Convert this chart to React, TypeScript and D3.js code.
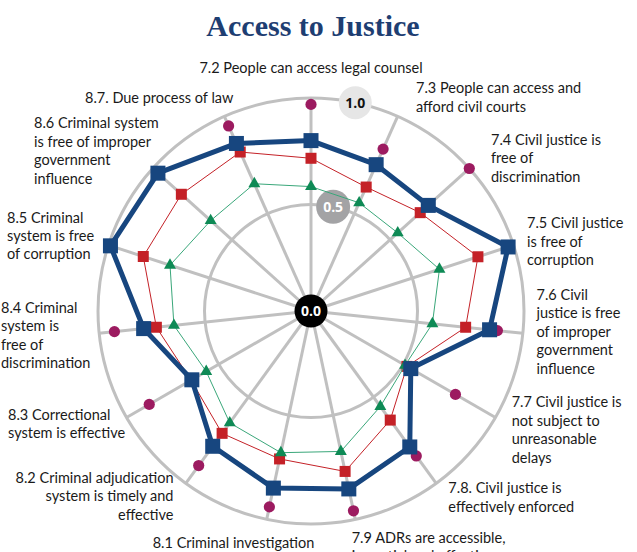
import React from "react";
import * as d3 from "d3";

const axisLabels: string[][] = [
  ["7.2 People can access legal counsel"],
  ["7.3 People can access and", "afford civil courts"],
  ["7.4 Civil justice is", "free of", "discrimination"],
  ["7.5 Civil justice", "is free of", "corruption"],
  ["7.6 Civil", "justice is free", "of improper", "government", "influence"],
  ["7.7 Civil justice is", "not subject to", "unreasonable", "delays"],
  ["7.8. Civil justice is", "effectively enforced"],
  ["7.9 ADRs are accessible,", "impartial and effective"],
  ["8.1 Criminal investigation"],
  ["8.2 Criminal adjudication", "system is timely and", "effective"],
  ["8.3 Correctional", "system is effective"],
  ["8.4 Criminal", "system is", "free of", "discrimination"],
  ["8.5 Criminal", "system is free", "of corruption"],
  ["8.6 Criminal system", "is free of improper", "government", "influence"],
  ["8.7. Due process of law"],
];

const blueValues = [0.8, 0.752, 0.741, 0.973, 0.843, 0.541, 0.789, 0.854, 0.85, 0.785, 0.646, 0.79, 0.99, 0.967, 0.861];
const redValues = [0.717, 0.637, 0.69, 0.824, 0.73, 0.52, 0.633, 0.77, 0.71, 0.71, 0.65, 0.73, 0.828, 0.819, 0.817];
const greenValues = [0.584, 0.556, 0.548, 0.634, 0.573, 0.51, 0.554, 0.674, 0.68, 0.649, 0.568, 0.647, 0.696, 0.634, 0.654];
const purpleValues = [0.97, 0.832, 1.0, 0.97, 0.88, 0.783, 0.841, 0.959, 0.94, 0.897, 0.877, 0.928, 0.99, 0.96, 0.951];

const ringTicks = [0.5, 1.0];
const tickLabels = ["0.0", "0.5", "1.0"];

// layout (not data)
const labelLayout: { x: number; y: number; anchor: string }[] = [
  { x: 311, y: 73, anchor: "middle" },
  { x: 416, y: 93.3, anchor: "start" },
  { x: 491, y: 145, anchor: "start" },
  { x: 527, y: 228.3, anchor: "start" },
  { x: 536.5, y: 300, anchor: "start" },
  { x: 511.7, y: 407.3, anchor: "start" },
  { x: 448.3, y: 493.3, anchor: "start" },
  { x: 351.7, y: 542.7, anchor: "start" },
  { x: 152.7, y: 548.3, anchor: "start" },
  { x: 173.5, y: 482.7, anchor: "end" },
  { x: 8, y: 420, anchor: "start" },
  { x: 1, y: 313, anchor: "start" },
  { x: 7, y: 222.6, anchor: "start" },
  { x: 34, y: 128.3, anchor: "start" },
  { x: 85, y: 103.3, anchor: "start" },
];

const W = 637;
const H = 552;
const cx = 311;
const cy = 311;
const R = 213;
const LINE_H = 18.4;

export default function App() {
  const n = axisLabels.length;
  const angle = d3.scaleLinear().domain([0, n]).range([0, 2 * Math.PI]);
  const r = d3.scaleLinear().domain([0, 1]).range([0, R]);
  const pt = (i: number, v: number): [number, number] => {
    const a = angle(i);
    return [cx + r(v) * Math.sin(a), cy - r(v) * Math.cos(a)];
  };
  const closedLine = (vals: number[]) =>
    d3.line<number>()
      .x((v, i) => pt(i, v)[0])
      .y((v, i) => pt(i, v)[1])
      .curve(d3.curveLinearClosed)(vals) || "";

  const grid = "#c0c0c0";
  const blue = "#17467f";
  const red = "#c42127";
  const green = "#0e8a55";
  const greenLine = "#3aa77a";
  const purple = "#9c1b60";
  const labelFont = "Lato, 'Open Sans', sans-serif";

  const tickAngle = angle(0.5);
  const tickPos = (v: number): [number, number] => [
    cx + r(v) * Math.sin(tickAngle),
    cy - r(v) * Math.cos(tickAngle),
  ];

  const tri = d3.symbol().type(d3.symbolTriangle).size(62)() || "";

  return (
    <svg width={W} height={H} style={{ position: "absolute", left: 0, top: 0, background: "#fff" }}>
      <text x={313} y={36} textAnchor="middle" fontFamily="'Liberation Serif', 'DejaVu Serif', serif" fontWeight="bold" fontSize={30} fill="#1e3e72">
        Access to Justice
      </text>

      {/* grid */}
      {ringTicks.map((t) => (
        <circle key={t} cx={cx} cy={cy} r={r(t)} fill="none" stroke={grid} strokeWidth={3} />
      ))}
      {axisLabels.map((_, i) => {
        const [x, y] = pt(i, 1);
        return <line key={i} x1={cx} y1={cy} x2={x} y2={y} stroke={grid} strokeWidth={3} />;
      })}

      {/* tick badges */}
      {(() => {
        const [x1, y1] = tickPos(1);
        const [x5, y5] = tickPos(0.5);
        return (
          <g fontFamily="'Open Sans', Lato, sans-serif" fontWeight="bold" textAnchor="middle">
            <circle cx={x1} cy={y1} r={16.5} fill="#e6e6e6" />
            <text x={x1} y={y1 + 5} fontSize={14} fill="#111">{tickLabels[2]}</text>
            <circle cx={x5} cy={y5} r={17} fill="#a3a3a5" />
            <text x={x5} y={y5 + 5} fontSize={14} fill="#fff">{tickLabels[1]}</text>
            <circle cx={cx} cy={cy} r={16.5} fill="#000" />
            <text x={cx} y={cy + 5} fontSize={14} fill="#fff">{tickLabels[0]}</text>
          </g>
        );
      })()}

      {/* purple dots */}
      {purpleValues.map((v, i) => {
        const [x, y] = pt(i, v);
        return <circle key={i} cx={x} cy={y} r={5.6} fill={purple} />;
      })}

      {/* red series */}
      <path d={closedLine(redValues)} fill="none" stroke={red} strokeWidth={1} />
      {redValues.map((v, i) => {
        const [x, y] = pt(i, v);
        return <rect key={i} x={x - 5.5} y={y - 5.5} width={11} height={11} fill={red} />;
      })}

      {/* green series */}
      <path d={closedLine(greenValues)} fill="none" stroke={greenLine} strokeWidth={1} />
      {greenValues.map((v, i) => {
        const [x, y] = pt(i, v);
        return <path key={i} d={tri} transform={`translate(${x},${y})`} fill={green} />;
      })}

      {/* blue series */}
      <path d={closedLine(blueValues)} fill="none" stroke={blue} strokeWidth={5} strokeLinejoin="round" />
      {blueValues.map((v, i) => {
        const [x, y] = pt(i, v);
        return <rect key={i} x={x - 7.5} y={y - 7.5} width={15} height={15} fill={blue} />;
      })}

      {/* axis labels */}
      <g fontFamily={labelFont} fontSize={14.5} fill="#1a1a1a">
        {axisLabels.map((lines, i) => (
          <text key={i} x={labelLayout[i].x} y={labelLayout[i].y} textAnchor={labelLayout[i].anchor}>
            {lines.map((l, j) => (
              <tspan key={j} x={labelLayout[i].x} dy={j === 0 ? 0 : LINE_H}>
                {l}
              </tspan>
            ))}
          </text>
        ))}
      </g>
    </svg>
  );
}
